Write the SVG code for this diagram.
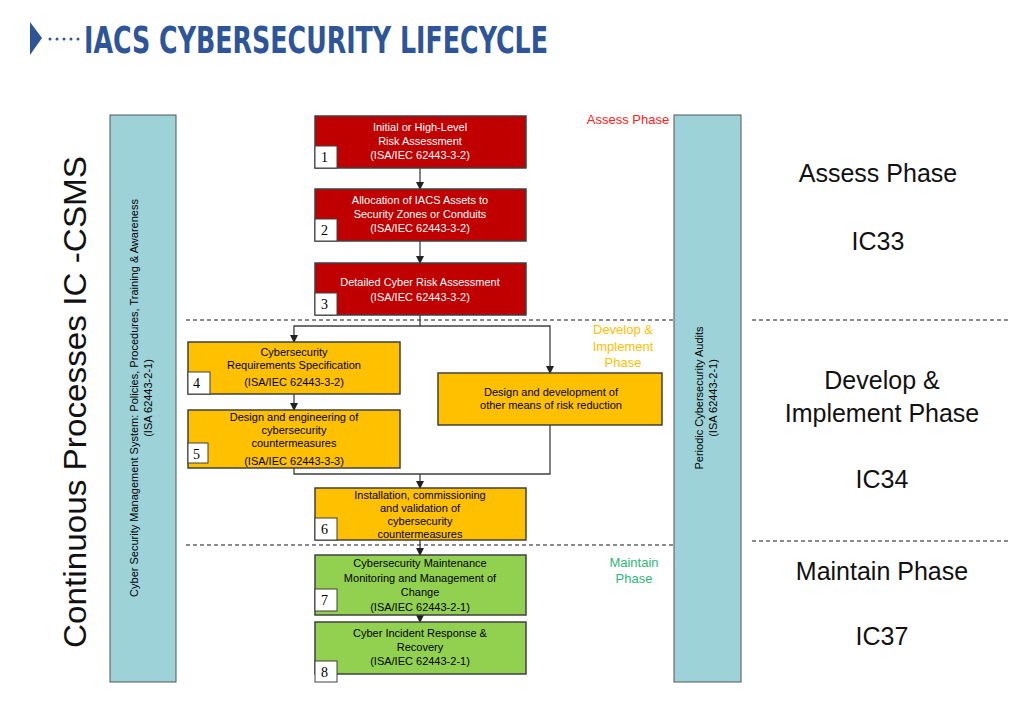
<svg xmlns="http://www.w3.org/2000/svg" width="1024" height="702" viewBox="0 0 1024 702">
<style>
.bx{stroke:#404040;stroke-width:1.5}
.red{fill:#C00000}.org{fill:#FFC000}.grn{fill:#92D050}
.t{font-family:"Liberation Sans",Arial,sans-serif;font-size:11px;text-anchor:middle}
.w{fill:#fff}.k{fill:#000}
.num{fill:#fff;stroke:#404040;stroke-width:1}
.n{font-family:"Liberation Serif",serif;font-size:14px;fill:#000}
.c{fill:none;stroke:#404040;stroke-width:1.3}
.d{stroke:#666;stroke-width:1.3;stroke-dasharray:4 3}
.bar{fill:#9DD3D8;stroke:#555;stroke-width:1}
.big{font-family:"Liberation Sans",Arial,sans-serif;font-size:25px;fill:#111;text-anchor:middle}
.ph{font-family:"Liberation Sans",Arial,sans-serif;font-size:13px;text-anchor:middle}
</style>
<defs><marker id="a" markerWidth="8" markerHeight="8" refX="7" refY="4" orient="auto" markerUnits="userSpaceOnUse"><path d="M0,0L8,4L0,8z" fill="#222"/></marker></defs>
<rect width="1024" height="702" fill="#fff"/>
<g id="title">
<path d="M30,22L42,38L30,55z" fill="#2E5597"/>
<g fill="#2E5597"><circle cx="50" cy="39" r="1.5"/><circle cx="57" cy="39" r="1.5"/><circle cx="64" cy="39" r="1.5"/><circle cx="71" cy="39" r="1.5"/><circle cx="78" cy="39" r="1.5"/></g>
<text x="84" y="53" font-family="'DejaVu Sans Condensed','Liberation Sans',sans-serif" font-weight="bold" font-size="38" fill="#2E5597" textLength="464" lengthAdjust="spacingAndGlyphs">IACS CYBERSECURITY LIFECYCLE</text>
</g>
<g id="left-label"><text transform="translate(86,402) rotate(-90)" font-family="'Liberation Sans',Arial,sans-serif" font-size="31" text-anchor="middle" fill="#111" textLength="492" lengthAdjust="spacingAndGlyphs">Continuous Processes IC  -CSMS</text></g>
<g id="csms-bar"><rect class="bar" x="110" y="115" width="66" height="567"/>
<text transform="translate(138,398) rotate(-90)" class="t k">Cyber Security Management System: Policies, Procedures, Training &amp; Awareness</text>
<text transform="translate(152,398) rotate(-90)" class="t k">(ISA 62443-2-1)</text></g>
<g id="audit-bar"><rect class="bar" x="674" y="115" width="67" height="567"/>
<text transform="translate(703,398) rotate(-90)" class="t k">Periodic Cybersecurity Audits</text>
<text transform="translate(717,398) rotate(-90)" class="t k">(ISA 62443-2-1)</text></g>
<g id="phases">
<line class="d" x1="186" y1="320" x2="673" y2="320"/><line class="d" x1="752" y1="320" x2="1010" y2="320"/>
<line class="d" x1="186" y1="545" x2="673" y2="545"/><line class="d" x1="752" y1="541" x2="1010" y2="541"/>
<text x="628" y="124" class="ph" fill="#FF2020">Assess Phase</text>
<text class="ph" fill="#FFC000"><tspan x="623" y="334">Develop &amp;</tspan><tspan x="623" y="351">Implement</tspan><tspan x="623" y="367">Phase</tspan></text>
<text class="ph" fill="#2DB87A"><tspan x="634" y="567">Maintain</tspan><tspan x="634" y="583">Phase</tspan></text>
<text x="878" y="182" class="big">Assess Phase</text><text x="878" y="250" class="big">IC33</text>
<text x="882" y="389" class="big">Develop &amp;</text><text x="882" y="422" class="big">Implement Phase</text><text x="882" y="488" class="big">IC34</text>
<text x="882" y="580" class="big">Maintain Phase</text><text x="882" y="645" class="big">IC37</text>
</g>
<g id="connectors">
<line class="c" x1="420" y1="168" x2="420" y2="189" marker-end="url(#a)"/>
<line class="c" x1="420" y1="241" x2="420" y2="263" marker-end="url(#a)"/>
<path class="c" d="M420,315V326H294V342" marker-end="url(#a)"/>
<path class="c" d="M420,326H550V373" marker-end="url(#a)"/>
<line class="c" x1="294" y1="394" x2="294" y2="410" marker-end="url(#a)"/>
<path class="c" d="M294,468V474H550V425"/>
<line class="c" x1="420" y1="474" x2="420" y2="488" marker-end="url(#a)"/>
<line class="c" x1="420" y1="540" x2="420" y2="555" marker-end="url(#a)"/>
<line class="c" x1="420" y1="615" x2="420" y2="622" marker-end="url(#a)"/>
</g>
<g id="n1"><rect class="bx red" x="315" y="116" width="211" height="52"/><text class="t w"><tspan x="420" y="131">Initial or High-Level</tspan><tspan x="420" y="145">Risk Assessment</tspan><tspan x="420" y="159">(ISA/IEC 62443-3-2)</tspan></text><rect class="num" x="315" y="146" width="22" height="22"/><text class="n" x="321" y="162">1</text></g>
<g id="n2"><rect class="bx red" x="315" y="189" width="211" height="52"/><text class="t w"><tspan x="420" y="204">Allocation of IACS Assets to</tspan><tspan x="420" y="218">Security Zones or Conduits</tspan><tspan x="420" y="232">(ISA/IEC 62443-3-2)</tspan></text><rect class="num" x="315" y="219" width="22" height="22"/><text class="n" x="321" y="235">2</text></g>
<g id="n3"><rect class="bx red" x="315" y="263" width="211" height="52"/><text class="t w"><tspan x="420" y="286">Detailed Cyber Risk Assessment</tspan><tspan x="420" y="301">(ISA/IEC 62443-3-2)</tspan></text><rect class="num" x="315" y="293" width="22" height="22"/><text class="n" x="321" y="309">3</text></g>
<g id="n4"><rect class="bx org" x="188" y="342" width="212" height="52"/><text class="t k"><tspan x="294" y="356">Cybersecurity</tspan><tspan x="294" y="369">Requirements Specification</tspan><tspan x="294" y="386">(ISA/IEC 62443-3-2)</tspan></text><rect class="num" x="188" y="372" width="22" height="22"/><text class="n" x="193" y="388">4</text></g>
<g id="n5"><rect class="bx org" x="188" y="410" width="212" height="58"/><text class="t k"><tspan x="294" y="421">Design and engineering of</tspan><tspan x="294" y="434">cybersecurity</tspan><tspan x="294" y="447">countermeasures</tspan><tspan x="294" y="465">(ISA/IEC 62443-3-3)</tspan></text><rect class="num" x="188" y="443" width="20" height="20"/><text class="n" x="193" y="459">5</text></g>
<g id="n-other"><rect class="bx org" x="438" y="373" width="224" height="52"/><text class="t k"><tspan x="551" y="396">Design and development of</tspan><tspan x="551" y="409">other means of risk reduction</tspan></text></g>
<g id="n6"><rect class="bx org" x="315" y="488" width="211" height="52"/><text class="t k"><tspan x="420" y="499">Installation, commissioning</tspan><tspan x="420" y="512">and validation of</tspan><tspan x="420" y="525">cybersecurity</tspan><tspan x="420" y="538">countermeasures</tspan></text><rect class="num" x="315" y="518" width="22" height="22"/><text class="n" x="321" y="534">6</text></g>
<g id="n7"><rect class="bx grn" x="315" y="555" width="211" height="60"/><text class="t k"><tspan x="420" y="567">Cybersecurity Maintenance</tspan><tspan x="420" y="582">Monitoring and Management of</tspan><tspan x="420" y="596">Change</tspan><tspan x="420" y="611">(ISA/IEC 62443-2-1)</tspan></text><rect class="num" x="315" y="589" width="22" height="22"/><text class="n" x="321" y="605">7</text></g>
<g id="n8"><rect class="bx grn" x="315" y="622" width="211" height="52"/><text class="t k"><tspan x="420" y="637">Cyber Incident Response &amp;</tspan><tspan x="420" y="651">Recovery</tspan><tspan x="420" y="665">(ISA/IEC 62443-2-1)</tspan></text><rect class="num" x="315" y="661" width="22" height="21"/><text class="n" x="321" y="677">8</text></g>
</svg>
